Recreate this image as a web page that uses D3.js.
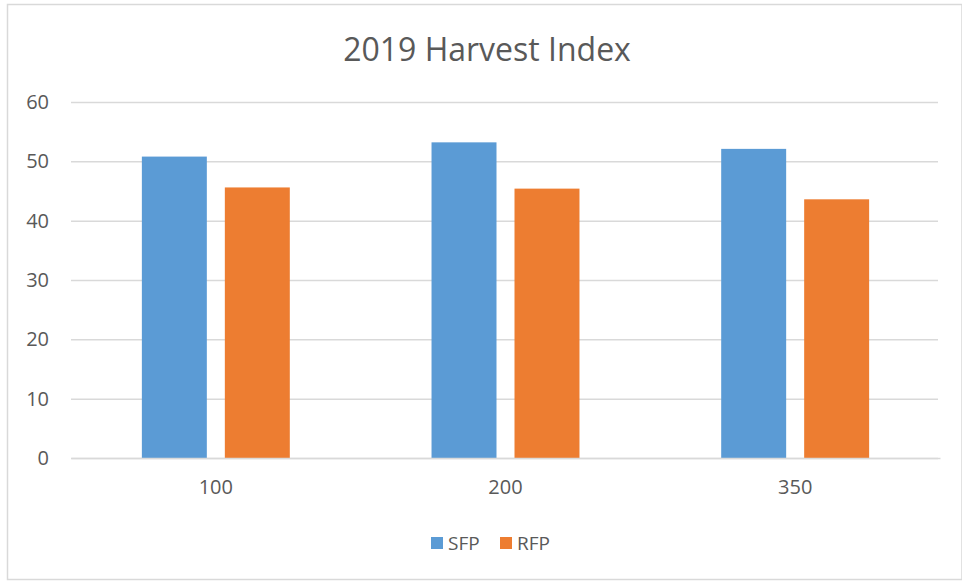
<!DOCTYPE html>
<html>
<head>
<meta charset="utf-8">
<script src="https://cdn.jsdelivr.net/npm/d3@7"></script>
<style>
  html, body { margin: 0; padding: 0; background: #fff; }
  svg { display: block; }
  text { font-family: "Open Sans", "Noto Sans", sans-serif; fill: #595959; }
</style>
</head>
<body>
<svg id="chart" width="962" height="581"></svg>
<script>
const title = "2019 Harvest Index";
const categories = ["100", "200", "350"];
const seriesNames = ["SFP", "RFP"];
const sfpValues = [50.8, 53.2, 52.1];
const rfpValues = [45.6, 45.4, 43.6];
const yTicks = [0, 10, 20, 30, 40, 50, 60];
const colors = ["#5B9BD5", "#ED7D31"];

const seriesValues = [sfpValues, rfpValues];
const data = categories.map((c, i) => ({
  cat: c,
  vals: seriesNames.map((s, j) => ({ key: s, value: seriesValues[j][i] }))
}));

const svg = d3.select("#chart");
const W = 962, H = 581;

// chart border
svg.append("rect")
  .attr("x", 7.5).attr("y", 4.5)
  .attr("width", W - 7.5).attr("height", 575)
  .attr("fill", "#fff").attr("stroke", "#d9d9d9").attr("stroke-width", 1.5);

const x0 = d3.scaleBand().domain(categories).range([71, 940]).padding(0);
const x1 = d3.scaleBand().domain(seriesNames)
  .range([0, x0.bandwidth()]).paddingInner(0.217).paddingOuter(0.854);
const y = d3.scaleLinear().domain([0, 60]).range([458, 102]);

// gridlines
const yAxis = d3.axisLeft(y).tickValues(yTicks).tickSize(-(938 - 71)).tickPadding(22);
const gy = svg.append("g").attr("transform", "translate(71,0)").call(yAxis);
gy.select(".domain").remove();
gy.selectAll(".tick line").attr("stroke", "#d9d9d9").attr("stroke-width", 1.5);
gy.selectAll(".tick text").attr("font-size", 20).style("fill", "#595959")
  .attr("font-family", "Open Sans, Noto Sans, sans-serif");

// bars
const groups = svg.append("g").selectAll("g").data(data).join("g")
  .attr("transform", d => `translate(${x0(d.cat)},0)`);
groups.selectAll("rect").data(d => d.vals).join("rect")
  .attr("x", d => x1(d.key))
  .attr("width", x1.bandwidth())
  .attr("y", d => y(d.value))
  .attr("height", d => y(0) - y(d.value))
  .attr("fill", (d, i) => colors[i]);

// x axis
const xAxis = d3.axisBottom(x0).tickSize(0).tickPadding(22);
const gx = svg.append("g").attr("transform", "translate(0,458)").call(xAxis);
gx.select(".domain").attr("stroke", "#d9d9d9").attr("stroke-width", 1.5);
gx.selectAll(".tick text").attr("font-size", 20).style("fill", "#595959")
  .attr("font-family", "Open Sans, Noto Sans, sans-serif");

// title
svg.append("text").attr("x", 487).attr("y", 61)
  .attr("text-anchor", "middle").attr("font-size", 32)
  .text(title);

// legend
const legend = svg.append("g");
const legendItems = [
  { name: seriesNames[0], color: colors[0], x: 431 },
  { name: seriesNames[1], color: colors[1], x: 500 }
];
legendItems.forEach(it => {
  legend.append("rect").attr("x", it.x).attr("y", 537)
    .attr("width", 12).attr("height", 12).attr("fill", it.color);
  legend.append("text").attr("x", it.x + 17).attr("y", 549.5)
    .attr("font-size", 19).text(it.name);
});
</script>
</body>
</html>
